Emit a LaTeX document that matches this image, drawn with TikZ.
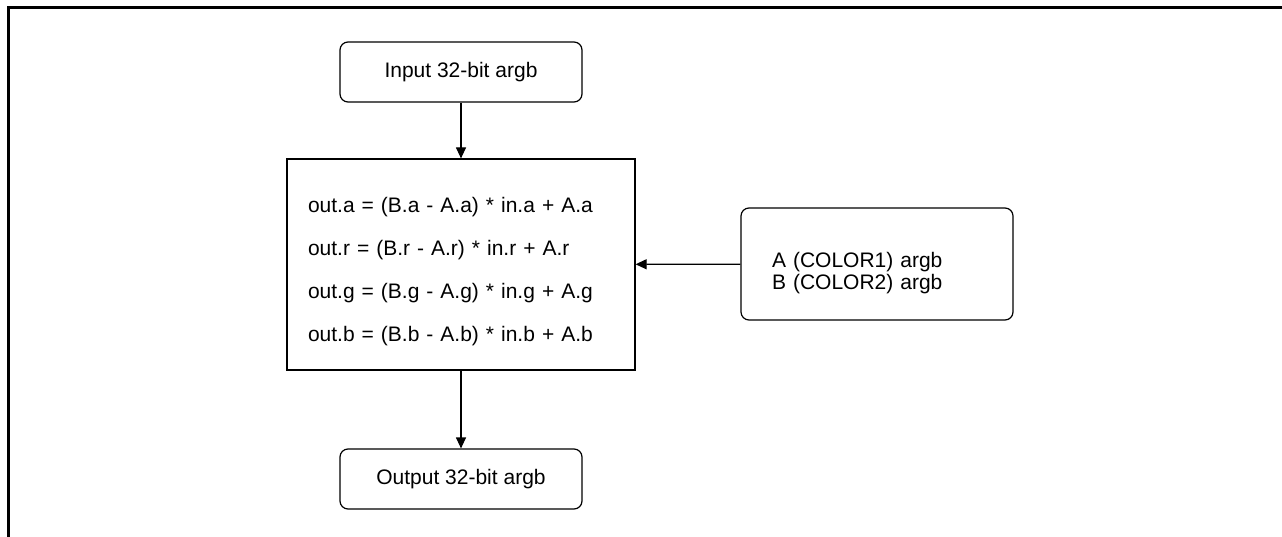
\documentclass[tikz,border=0pt]{standalone}
\usepackage{fontspec}
\setmainfont{Liberation Sans}
\usetikzlibrary{arrows.meta,positioning}

\begin{document}
\begin{tikzpicture}[
    x=1pt, y=-1pt,
    font=\fontsize{21}{22}\selectfont,
    termBox/.style={
        rectangle, rounded corners=8pt, draw=black, line width=1.2pt,
        minimum width=242pt, minimum height=60pt, inner sep=0pt
    },
    calcBox/.style={
        rectangle, draw=black, line width=1.2pt,
        text width=306pt, align=left, inner xsep=21pt,
        minimum height=211pt, font=\fontsize{21}{43}\selectfont
    },
    paramBox/.style={
        rectangle, rounded corners=8pt, draw=black, line width=1.2pt,
        text width=210pt, align=left, inner xsep=31pt, minimum height=112pt
    },
    flowEdge/.style={
        -{Triangle[length=11pt, width=10pt]}, line width=1.2pt, draw=black
    }
]

% Page frame
\useasboundingbox (0,0) rectangle (1282,537);
\draw[line width=3pt] (8,537) -- (8,8) -- (1282,8);

% Input, blend and output boxes
\node[termBox] (input) at (461, 72) {Input 32-bit argb};

\node[calcBox] (calc) at (461, 264.5) {
    \rule{0pt}{29pt}out.a = (B.a - A.a) * in.a + A.a\\
    out.r = (B.r - A.r) * in.r + A.r\\
    out.g = (B.g - A.g) * in.g + A.g\\
    out.b = (B.b - A.b) * in.b + A.b
};

\node[termBox] (output) at (461, 479) {Output 32-bit argb};

% Colour parameters
\node[paramBox] (colors) at (877, 264) {
    \rule{0pt}{33pt}A (COLOR1) argb\\
    B (COLOR2) argb
};

% Connectors
\draw[flowEdge] (input) -- (calc);
\draw[flowEdge] (calc) -- (output);
\draw[flowEdge] (colors) -- (calc);

\end{tikzpicture}
\end{document}
